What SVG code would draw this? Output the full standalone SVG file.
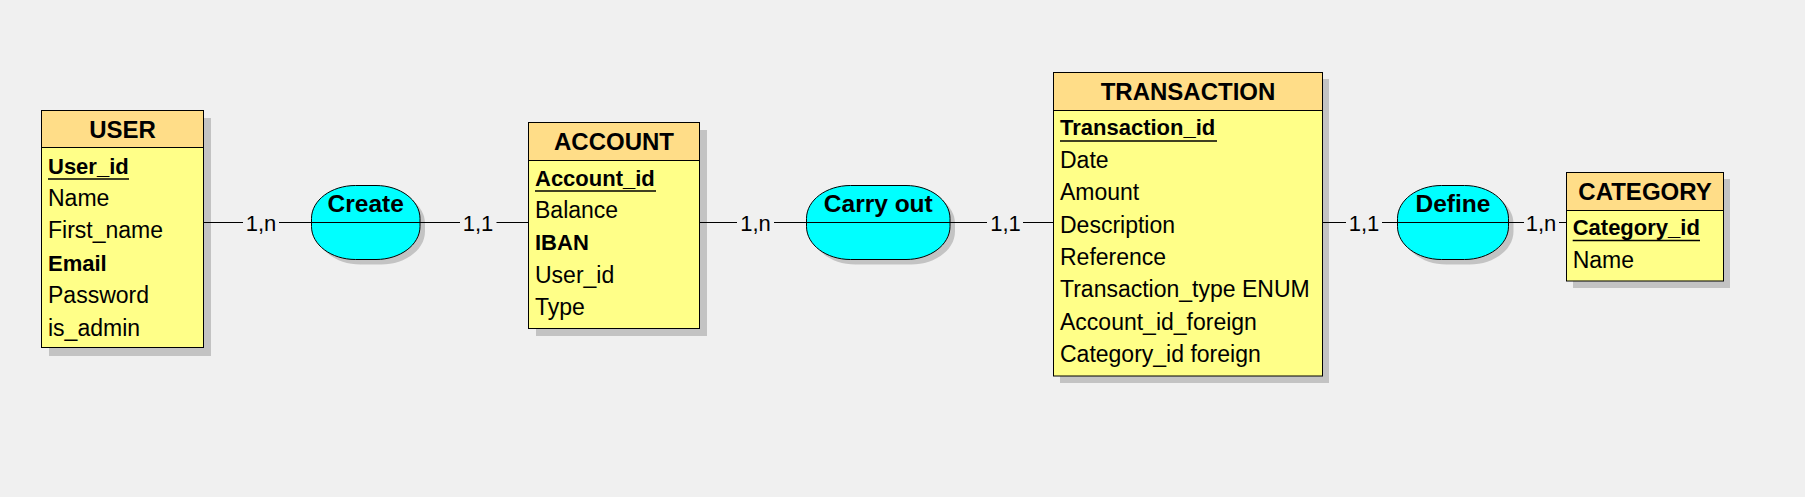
<svg xmlns="http://www.w3.org/2000/svg" xmlns:xlink="http://www.w3.org/1999/xlink" width="1805" height="497" viewBox="0 0 1805 497">
<style>
.bg{fill:#f0f0f0}
.shadow{fill:#c3c3c3;stroke:none}
.hdr{fill:#ffdd88;stroke:#000;stroke-width:1}
.body{fill:#ffff88;stroke:#000;stroke-width:1}
.sep{stroke:#000;stroke-width:1}
.title{font-family:'Liberation Sans',Arial,sans-serif;font-weight:bold;font-size:24px;text-anchor:middle;fill:#000}
.attr{font-family:'Liberation Sans',Arial,sans-serif;font-size:23px;fill:#000}
.pk{font-weight:bold;font-size:22px}
.ul{stroke:#000;stroke-width:1.3}
.rel{fill:#00ffff;stroke:#000;stroke-width:1}
.rname{font-family:'Liberation Sans',Arial,sans-serif;font-weight:bold;font-size:24.5px;text-anchor:middle;fill:#000}
.conn{stroke:#000;stroke-width:1;fill:none}
.card{font-family:'Liberation Sans',Arial,sans-serif;font-size:22px;text-anchor:middle;fill:#000}
</style>
<defs>
  <path id="shp-create" d="M355.5,185.5 H376 C400.3,185.5 420,200.3 420,218.5 V226.5 C420,244.7 400.3,259.5 376,259.5 H355.5 C331.2,259.5 311.5,244.7 311.5,226.5 V218.5 C311.5,200.3 331.2,185.5 355.5,185.5 Z"/>
  <path id="shp-carry" d="M850.5,185.5 H906 C930.3,185.5 950,200.3 950,218.5 V226.5 C950,244.7 930.3,259.5 906,259.5 H850.5 C826.2,259.5 806.5,244.7 806.5,226.5 V218.5 C806.5,200.3 826.2,185.5 850.5,185.5 Z"/>
  <path id="shp-define" d="M1441.5,185.5 H1464.5 C1488.8,185.5 1508.5,200.3 1508.5,218.5 V226.5 C1508.5,244.7 1488.8,259.5 1464.5,259.5 H1441.5 C1417.2,259.5 1397.5,244.7 1397.5,226.5 V218.5 C1397.5,200.3 1417.2,185.5 1441.5,185.5 Z"/>
</defs>
<rect class="bg" x="0" y="0" width="1805" height="497"/>

<g id="user">
  <rect class="shadow" x="49" y="118" width="162" height="238"/>
  <rect class="body" x="41.5" y="110.5" width="162" height="237"/>
  <rect class="hdr" x="41.5" y="110.5" width="162" height="37"/>
  <text class="title" x="122.5" y="138">USER</text>
  <text class="attr pk" x="48" y="173.5">User_id</text>
  <line class="ul" x1="48" y1="179" x2="129" y2="179"/>
  <text class="attr" x="48" y="205.9">Name</text>
  <text class="attr" x="48" y="238.3">First_name</text>
  <text class="attr pk" x="48" y="270.7">Email</text>
  <text class="attr" x="48" y="303.1">Password</text>
  <text class="attr" x="48" y="335.5">is_admin</text>
</g>

<g id="create">
  <use xlink:href="#shp-create" href="#shp-create" class="shadow" transform="translate(5,5)"/>
  <use xlink:href="#shp-create" href="#shp-create" class="rel"/>
  <line class="sep" x1="311.5" y1="222.5" x2="420" y2="222.5"/>
  <text class="rname" x="365.7" y="211.5">Create</text>
</g>

<g id="account">
  <rect class="shadow" x="536" y="130" width="171" height="206"/>
  <rect class="body" x="528.5" y="122.5" width="171" height="206"/>
  <rect class="hdr" x="528.5" y="122.5" width="171" height="38"/>
  <text class="title" x="614" y="150">ACCOUNT</text>
  <text class="attr pk" x="535" y="185.5">Account_id</text>
  <line class="ul" x1="535" y1="191" x2="656" y2="191"/>
  <text class="attr" x="535" y="217.9">Balance</text>
  <text class="attr pk" x="535" y="250.3">IBAN</text>
  <text class="attr" x="535" y="282.7">User_id</text>
  <text class="attr" x="535" y="315.1">Type</text>
</g>

<g id="carry_out">
  <use xlink:href="#shp-carry" href="#shp-carry" class="shadow" transform="translate(5,5)"/>
  <use xlink:href="#shp-carry" href="#shp-carry" class="rel"/>
  <line class="sep" x1="806.5" y1="222.5" x2="950" y2="222.5"/>
  <text class="rname" x="878.3" y="211.5">Carry out</text>
</g>

<g id="transaction">
  <rect class="shadow" x="1060" y="79" width="269" height="304"/>
  <rect class="body" x="1053.5" y="72.5" width="269" height="303.5"/>
  <rect class="hdr" x="1053.5" y="72.5" width="269" height="38"/>
  <text class="title" x="1188" y="100">TRANSACTION</text>
  <text class="attr pk" x="1060" y="135.3">Transaction_id</text>
  <line class="ul" x1="1060" y1="141" x2="1217" y2="141"/>
  <text class="attr" x="1060" y="167.7">Date</text>
  <text class="attr" x="1060" y="200.1">Amount</text>
  <text class="attr" x="1060" y="232.5">Description</text>
  <text class="attr" x="1060" y="264.9">Reference</text>
  <text class="attr" x="1060" y="297.3">Transaction_type ENUM</text>
  <text class="attr" x="1060" y="329.7">Account_id_foreign</text>
  <text class="attr" x="1060" y="362.1">Category_id foreign</text>
</g>

<g id="define">
  <use xlink:href="#shp-define" href="#shp-define" class="shadow" transform="translate(5,5)"/>
  <use xlink:href="#shp-define" href="#shp-define" class="rel"/>
  <line class="sep" x1="1397.5" y1="222.5" x2="1508.5" y2="222.5"/>
  <text class="rname" x="1453" y="211.5">Define</text>
</g>

<g id="category">
  <rect class="shadow" x="1573" y="179" width="157" height="109"/>
  <rect class="body" x="1566.5" y="172.5" width="157" height="108.5"/>
  <rect class="hdr" x="1566.5" y="172.5" width="157" height="38"/>
  <text class="title" x="1645" y="199.5">CATEGORY</text>
  <text class="attr pk" x="1572.7" y="234.5">Category_id</text>
  <line class="ul" x1="1572.7" y1="240.5" x2="1700" y2="240.5"/>
  <text class="attr" x="1572.7" y="267.5">Name</text>
</g>

<g id="connectors">
  <path class="conn" d="M203.5 222.5H243 M279 222.5H311.5"/>
  <text class="card" x="261" y="230.5">1,n</text>
  <path class="conn" d="M420 222.5H460 M496.5 222.5H528.5"/>
  <text class="card" x="478" y="230.5">1,1</text>
  <path class="conn" d="M699.5 222.5H737 M774 222.5H806.5"/>
  <text class="card" x="755.5" y="230.5">1,n</text>
  <path class="conn" d="M950 222.5H987 M1023 222.5H1053.5"/>
  <text class="card" x="1005.5" y="230.5">1,1</text>
  <path class="conn" d="M1322.5 222.5H1346 M1382 222.5H1397.5"/>
  <text class="card" x="1364" y="230.5">1,1</text>
  <path class="conn" d="M1508.5 222.5H1524 M1559 222.5H1566.5"/>
  <text class="card" x="1541" y="230.5">1,n</text>
</g>
</svg>
